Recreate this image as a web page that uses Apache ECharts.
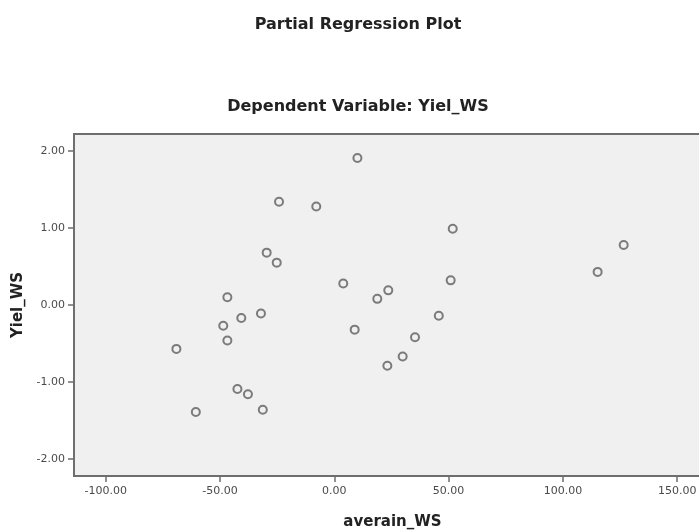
<!DOCTYPE html>
<html>
<head>
<meta charset="utf-8">
<script src="https://cdn.jsdelivr.net/npm/echarts@6/dist/echarts.min.js"></script>
<style>
  html, body { margin: 0; padding: 0; background: #ffffff; }
  #chart { width: 699px; height: 532px; }
</style>
</head>
<body>
<div id="chart"></div>
<script>
// Partial regression residuals: averain_WS (x) vs Yiel_WS (y)
const averainWS = [
  -24.2, -7.9, -29.6, -25.2, 3.9, -46.8, -40.7, -32.1, -48.6, -46.8,
  -69.1, -42.4, -37.8, -60.6, -31.3, 10.1, 51.8, 50.9, 23.6, 18.8,
  45.7, 8.9, 35.3, 29.9, 23.2, 126.6, 115.2
];
const yielWS = [
  1.34, 1.28, 0.68, 0.55, 0.28, 0.10, -0.17, -0.11, -0.27, -0.46,
  -0.57, -1.09, -1.16, -1.39, -1.36, 1.91, 0.99, 0.32, 0.19, 0.08,
  -0.14, -0.32, -0.42, -0.67, -0.79, 0.78, 0.43
];
const xTicks = [-100, -50, 0, 50, 100, 150];
const yTicks = [-2, -1, 0, 1, 2];

const points = averainWS.map((x, i) => [x, yielWS[i]]);

const frame = '#6e6e6e';
const chart = echarts.init(document.getElementById('chart'), null, { renderer: 'canvas' });

chart.setOption({
  backgroundColor: '#ffffff',
  animation: false,
  title: [
    {
      text: 'Partial Regression Plot',
      left: 353, top: 12, textAlign: 'center',
      textStyle: { fontFamily: 'DejaVu Sans', fontWeight: 'bold', fontSize: 16, color: '#222222' }
    },
    {
      text: 'Dependent Variable: Yiel_WS',
      left: 353, top: 94, textAlign: 'center',
      textStyle: { fontFamily: 'DejaVu Sans', fontWeight: 'bold', fontSize: 16, color: '#222222' }
    }
  ],
  // plot panel runs past the right edge of the canvas
  grid: {
    left: 74, top: 134, width: 637, bottom: 56,
    outerBoundsMode: 'none',
    containLabel: false,
    show: true,
    backgroundColor: '#f0f0f0',
    borderColor: frame,
    borderWidth: 2
  },
  xAxis: {
    type: 'value',
    min: -113.9, max: 164.8,
    name: 'averain_WS',
    nameLocation: 'middle',
    nameGap: 39,
    nameTextStyle: { fontFamily: 'DejaVu Sans', fontWeight: 'bold', fontSize: 15, color: '#222222' },
    axisLine: { show: true, onZero: false, lineStyle: { color: frame, width: 2 } },
    axisTick: { show: true, length: 6, customValues: xTicks, lineStyle: { color: frame, width: 1.5 } },
    axisLabel: {
      customValues: xTicks, margin: 10,
      fontFamily: 'DejaVu Sans', fontSize: 11, color: '#4a4a4a',
      formatter: v => v.toFixed(2)
    },
    splitLine: { show: false }
  },
  yAxis: {
    type: 'value',
    min: -2.221, max: 2.221,
    name: 'Yiel_WS',
    nameLocation: 'middle',
    nameGap: 43,
    nameTextStyle: { fontFamily: 'DejaVu Sans', fontWeight: 'bold', fontSize: 15, color: '#222222' },
    axisLine: { show: true, onZero: false, lineStyle: { color: frame, width: 2 } },
    axisTick: { show: true, length: 6, customValues: yTicks, lineStyle: { color: frame, width: 1.5 } },
    axisLabel: {
      customValues: yTicks, margin: 9,
      fontFamily: 'DejaVu Sans', fontSize: 11, color: '#4a4a4a',
      formatter: v => v.toFixed(2)
    },
    splitLine: { show: false }
  },
  series: [{
    type: 'scatter',
    data: points,
    symbol: 'circle',
    symbolSize: 8,
    itemStyle: { color: 'rgba(0,0,0,0)', borderColor: '#5e5e5e', borderWidth: 2 }
  }]
});
</script>
</body>
</html>
